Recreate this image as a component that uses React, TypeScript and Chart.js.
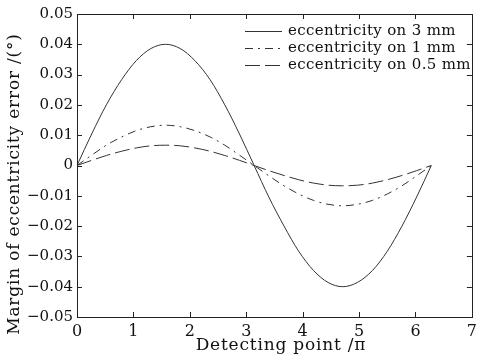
import React, { useEffect, useRef } from "react";
import { Chart, registerables } from "chart.js";

Chart.register(...registerables);

const xPoints = [0, 0.26, 0.52, 0.79, 1.05, 1.31, 1.57, 1.83, 2.09, 2.36, 2.62, 2.88, 3.14, 3.4, 3.67, 3.93, 4.19, 4.45, 4.71, 4.97, 5.24, 5.5, 5.76, 6.02, 6.28];
const ecc3 = [0, 0.0104, 0.02, 0.0283, 0.0346, 0.0386, 0.04, 0.0386, 0.0346, 0.0283, 0.02, 0.0104, 0, -0.0104, -0.02, -0.0283, -0.0346, -0.0386, -0.04, -0.0386, -0.0346, -0.0283, -0.02, -0.0104, 0];
const ecc1 = [0, 0.0034, 0.0067, 0.0094, 0.0115, 0.0128, 0.0133, 0.0128, 0.0115, 0.0094, 0.0067, 0.0034, 0, -0.0034, -0.0067, -0.0094, -0.0115, -0.0128, -0.0133, -0.0128, -0.0115, -0.0094, -0.0067, -0.0034, 0];
const ecc05 = [0, 0.0017, 0.0033, 0.0047, 0.0058, 0.0065, 0.0067, 0.0065, 0.0058, 0.0047, 0.0033, 0.0017, 0, -0.0017, -0.0033, -0.0047, -0.0058, -0.0065, -0.0067, -0.0065, -0.0058, -0.0047, -0.0033, -0.0017, 0];
const seriesLabels = ["eccentricity on 3 mm", "eccentricity on 1 mm", "eccentricity on 0.5 mm"];
const xTicks = [0, 1, 2, 3, 4, 5, 6, 7];
const yTicks = [-0.05, -0.04, -0.03, -0.02, -0.01, 0, 0.01, 0.02, 0.03, 0.04, 0.05];
const xTitle = "Detecting point /\u03c0";
const yTitle = "Margin of eccentricity error /(\u00b0)";

const FONT = "'DejaVu Serif', serif";
const dashes = [[], [8, 5, 2, 5], [15, 5]];
const LINE_COLOR = "#333";

const fmtY = (v: number) => {
  if (Math.abs(v) < 1e-9) return "0";
  const s = Math.abs(v).toFixed(2);
  return v < 0 ? "\u2212" + s : s;
};

const framePlugin = {
  id: "frame",
  afterDraw(chart: any) {
    const ctx = chart.ctx;
    const { left, right, top, bottom } = chart.chartArea;
    const xs = chart.scales.x;
    const ys = chart.scales.y;
    ctx.save();
    ctx.strokeStyle = "#222";
    ctx.lineWidth = 1;
    ctx.setLineDash([]);
    ctx.strokeRect(Math.round(left) + 0.5, Math.round(top) + 0.5, Math.round(right - left), Math.round(bottom - top));
    const tl = 5;
    ctx.beginPath();
    for (const v of xTicks) {
      const px = Math.round(xs.getPixelForValue(v)) + 0.5;
      ctx.moveTo(px, bottom); ctx.lineTo(px, bottom - tl);
      ctx.moveTo(px, top); ctx.lineTo(px, top + tl);
    }
    for (const v of yTicks) {
      const py = Math.round(ys.getPixelForValue(v)) + 0.5;
      ctx.moveTo(left, py); ctx.lineTo(left + tl, py);
      ctx.moveTo(right, py); ctx.lineTo(right - tl, py);
    }
    ctx.stroke();

    // legend (no box)
    const lx = 245;
    ctx.font = "15px " + FONT;
    (ctx as any).letterSpacing = "0.35px";
    ctx.textBaseline = "middle";
    ctx.textAlign = "left";
    seriesLabels.forEach((lab, i) => {
      const yy = 31 + i * 17 + 0.5;
      ctx.strokeStyle = LINE_COLOR;
      ctx.setLineDash(dashes[i]);
      ctx.beginPath();
      ctx.moveTo(lx, yy); ctx.lineTo(lx + 37, yy);
      ctx.stroke();
      ctx.fillStyle = "#111";
      ctx.fillText(lab, 288, yy);
    });
    ctx.setLineDash([]);

    // titles
    ctx.fillStyle = "#111";
    ctx.font = "17px " + FONT;
    (ctx as any).letterSpacing = "0.8px";
    ctx.textAlign = "center";
    ctx.textBaseline = "middle";
    ctx.fillText(xTitle, 281, 346);
    ctx.save();
    ctx.translate(15, 184);
    ctx.rotate(-Math.PI / 2);
    ctx.fillText(yTitle, 0, 0);
    ctx.restore();
    (ctx as any).letterSpacing = "0px";
    ctx.restore();
  },
};

export default function App() {
  const ref = useRef<HTMLCanvasElement>(null);
  useEffect(() => {
    if (!ref.current) return;
    const mk = (data: number[]) => xPoints.map((x, i) => ({ x, y: data[i] }));
    const all = [ecc3, ecc1, ecc05];
    const chart = new Chart(ref.current, {
      type: "line",
      data: {
        datasets: all.map((d, i) => ({
          label: seriesLabels[i],
          data: mk(d),
          borderColor: LINE_COLOR,
          borderWidth: 1,
          borderDash: dashes[i],
          pointRadius: 0,
          tension: 0.4,
          cubicInterpolationMode: "monotone" as const,
          fill: false,
        })),
      },
      options: {
        animation: false,
        responsive: false,
        devicePixelRatio: 1,
        layout: { padding: { top: 14, right: 4, left: 0, bottom: 0 } },
        plugins: { legend: { display: false }, tooltip: { enabled: false } },
        scales: {
          x: {
            type: "linear",
            min: 0,
            max: 7,
            afterBuildTicks: (s: any) => { s.ticks = xTicks.map((v) => ({ value: v })); },
            afterFit: (s: any) => { s.height = 47; },
            ticks: { font: { family: FONT, size: 16 }, color: "#111", padding: 5, maxRotation: 0, callback: (v: any) => String(v) },
            grid: { display: false, drawTicks: false },
            border: { display: false },
          },
          y: {
            type: "linear",
            min: -0.05,
            max: 0.05,
            afterBuildTicks: (s: any) => { s.ticks = yTicks.map((v) => ({ value: v })); },
            afterFit: (s: any) => { s.width = 77; },
            ticks: { font: { family: FONT, size: 15 }, color: "#111", padding: 4, callback: (v: any) => fmtY(Number(v)) },
            grid: { display: false, drawTicks: false },
            border: { display: false },
          },
        },
      },
      plugins: [framePlugin],
    });
    return () => chart.destroy();
  }, []);
  return (
    <div style={{ position: "fixed", left: 0, top: 0, width: 482, height: 364, background: "#fff" }}>
      <canvas ref={ref} width={482} height={364} style={{ display: "block" }} />
    </div>
  );
}
